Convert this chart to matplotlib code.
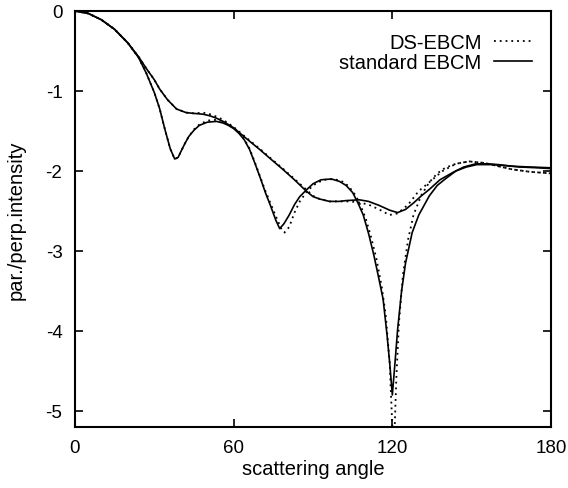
# plot.py
# par./perp. intensity vs scattering angle, DS-EBCM vs standard EBCM
import matplotlib
matplotlib.use('Agg')
import matplotlib.pyplot as plt
import numpy as np

# Figure defaults
plt.rc('font', family=['Liberation Sans', 'DejaVu Sans'], size=14)

# Data
# curve with the deep minima
angleA = [0, 5, 10, 15, 20, 24, 27, 30, 32, 34, 36, 37.7, 39, 40, 41.5, 43, 45, 47, 50,
          53.5, 56, 58, 60, 62, 64, 66, 68, 70, 72, 74, 76, 77.4, 79, 81, 83, 85, 87.4,
          90, 93, 97, 100, 102.5, 105, 107, 109, 111, 113, 115, 116.5, 118, 119, 120,
          121, 122, 123.5, 125, 127.5, 130, 134, 137, 140, 144, 148, 152, 158, 165,
          172, 180]
stdA = [0, -0.03, -0.11, -0.23, -0.40, -0.58, -0.78, -1.02, -1.22, -1.48, -1.72, -1.85,
        -1.83, -1.76, -1.66, -1.57, -1.49, -1.43, -1.39, -1.38, -1.40, -1.43, -1.47,
        -1.53, -1.61, -1.73, -1.90, -2.08, -2.27, -2.44, -2.62, -2.72, -2.66, -2.55,
        -2.42, -2.32, -2.24, -2.16, -2.11, -2.10, -2.13, -2.18, -2.27, -2.40, -2.55,
        -2.78, -3.05, -3.36, -3.60, -4.05, -4.40, -4.80, -4.40, -3.98, -3.50, -3.15,
        -2.77, -2.55, -2.31, -2.18, -2.10, -2.00, -1.95, -1.92, -1.92, -1.94, -1.95,
        -1.96]

angleDsA = [0, 5, 10, 15, 20, 24, 27, 30, 32, 34, 36, 37.7, 39, 40, 41.5, 43, 45, 47, 50,
            53.5, 56, 58, 60, 62, 64, 66, 68, 70, 72, 74, 76, 78, 79.2, 81, 83, 85, 88,
            91, 94, 98, 101, 103.5, 106, 108, 110, 112, 114, 116, 117.5, 119, 120.5,
            121.5, 122.5, 124, 126, 128, 131, 134, 137, 140, 144, 149, 155, 160, 165.4,
            172, 180]
dsA = [0, -0.03, -0.11, -0.23, -0.40, -0.58, -0.78, -1.02, -1.22, -1.48, -1.72, -1.85,
       -1.83, -1.76, -1.66, -1.57, -1.48, -1.42, -1.37, -1.36, -1.38, -1.42, -1.46,
       -1.52, -1.60, -1.72, -1.89, -2.07, -2.25, -2.41, -2.57, -2.72, -2.77, -2.70,
       -2.52, -2.38, -2.24, -2.16, -2.11, -2.10, -2.13, -2.19, -2.30, -2.43, -2.60,
       -2.83, -3.10, -3.45, -3.80, -4.40, -5.60, -4.60, -3.90, -3.30, -2.85, -2.55,
       -2.30, -2.14, -2.03, -1.96, -1.91, -1.88, -1.90, -1.94, -1.98, -2.01, -2.03]

# smoother curve
angleB = [0, 5, 10, 15, 20, 24, 27, 30, 32, 35, 38.4, 42, 45, 48.4, 51, 53.5, 56, 60, 65,
          69.8, 74, 78.6, 83, 87.4, 90, 92.5, 96.2, 100, 102.5, 107.5, 111, 115, 119, 122,
          125, 128, 131, 134, 138, 142.8, 147, 151.6, 156, 160, 168, 175, 180]
stdB = [0, -0.03, -0.11, -0.23, -0.40, -0.57, -0.72, -0.86, -0.975, -1.11, -1.225,
        -1.27, -1.28, -1.29, -1.31, -1.34, -1.38, -1.46, -1.60, -1.73, -1.85, -1.98,
        -2.11, -2.25, -2.32, -2.35, -2.38, -2.38, -2.37, -2.36, -2.38, -2.43, -2.49,
        -2.52, -2.48, -2.40, -2.31, -2.23, -2.11, -2.02, -1.95, -1.91, -1.91, -1.92,
        -1.95, -1.96, -1.97]

angleDsB = [0, 5, 10, 15, 20, 24, 27, 30, 32, 35, 38.4, 42, 45, 48.4, 51, 53.5, 56, 60,
            65, 69.8, 74, 78.6, 83, 87.4, 90, 92.5, 96.2, 100, 103, 107, 111, 115, 118.9,
            122, 126, 130, 134, 139, 144, 149, 155, 160, 165.4, 172, 180]
dsB = [0, -0.03, -0.11, -0.23, -0.40, -0.57, -0.72, -0.86, -0.975, -1.11, -1.225, -1.27,
       -1.28, -1.27, -1.29, -1.32, -1.36, -1.45, -1.59, -1.72, -1.84, -1.97, -2.10,
       -2.23, -2.31, -2.35, -2.38, -2.38, -2.38, -2.39, -2.42, -2.48, -2.55, -2.53,
       -2.42, -2.25, -2.14, -2.00, -1.91, -1.88, -1.90, -1.94, -1.98, -2.01, -2.03]

xTicks = [0, 60, 120, 180]
yTicks = [0, -1, -2, -3, -4, -5]

fig = plt.figure(figsize=(5.68, 4.89), dpi=100)
ax = fig.add_axes([75 / 568, 1 - 428 / 489, 476 / 568, 416 / 489])

dotStyle = dict(color='black', lw=1.3, linestyle=(0, (1, 2.2)))
solidStyle = dict(color='black', lw=1.2)

ax.plot(angleDsA, dsA, label='DS-EBCM', **dotStyle)
ax.plot(angleDsB, dsB, **dotStyle)
ax.plot(angleA, stdA, label='standard EBCM', **solidStyle)
ax.plot(angleB, stdB, **solidStyle)

ax.set_xlim(0, 180)
ax.set_ylim(-5.2, 0)
ax.set_xticks(xTicks)
ax.set_yticks(yTicks)
ax.set_xticklabels([str(t) for t in xTicks])
ax.set_yticklabels([str(t) for t in yTicks])
ax.tick_params(direction='in', length=6, width=1.2, top=True, right=True,
               labelsize=13.5, pad=9)
for sp in ax.spines.values():
    sp.set_linewidth(1.5)

ax.set_xlabel('scattering angle', fontsize=14.5, labelpad=2)
ax.set_ylabel('par./perp.intensity', fontsize=14.5, labelpad=14)

ax.legend(loc='upper right', bbox_to_anchor=(0.985, 0.975), frameon=False,
          markerfirst=False, fontsize=14.5, handlelength=1.9, handletextpad=0.6,
          labelspacing=0.05, borderaxespad=0.2)

fig.savefig('out.png', dpi=100)
